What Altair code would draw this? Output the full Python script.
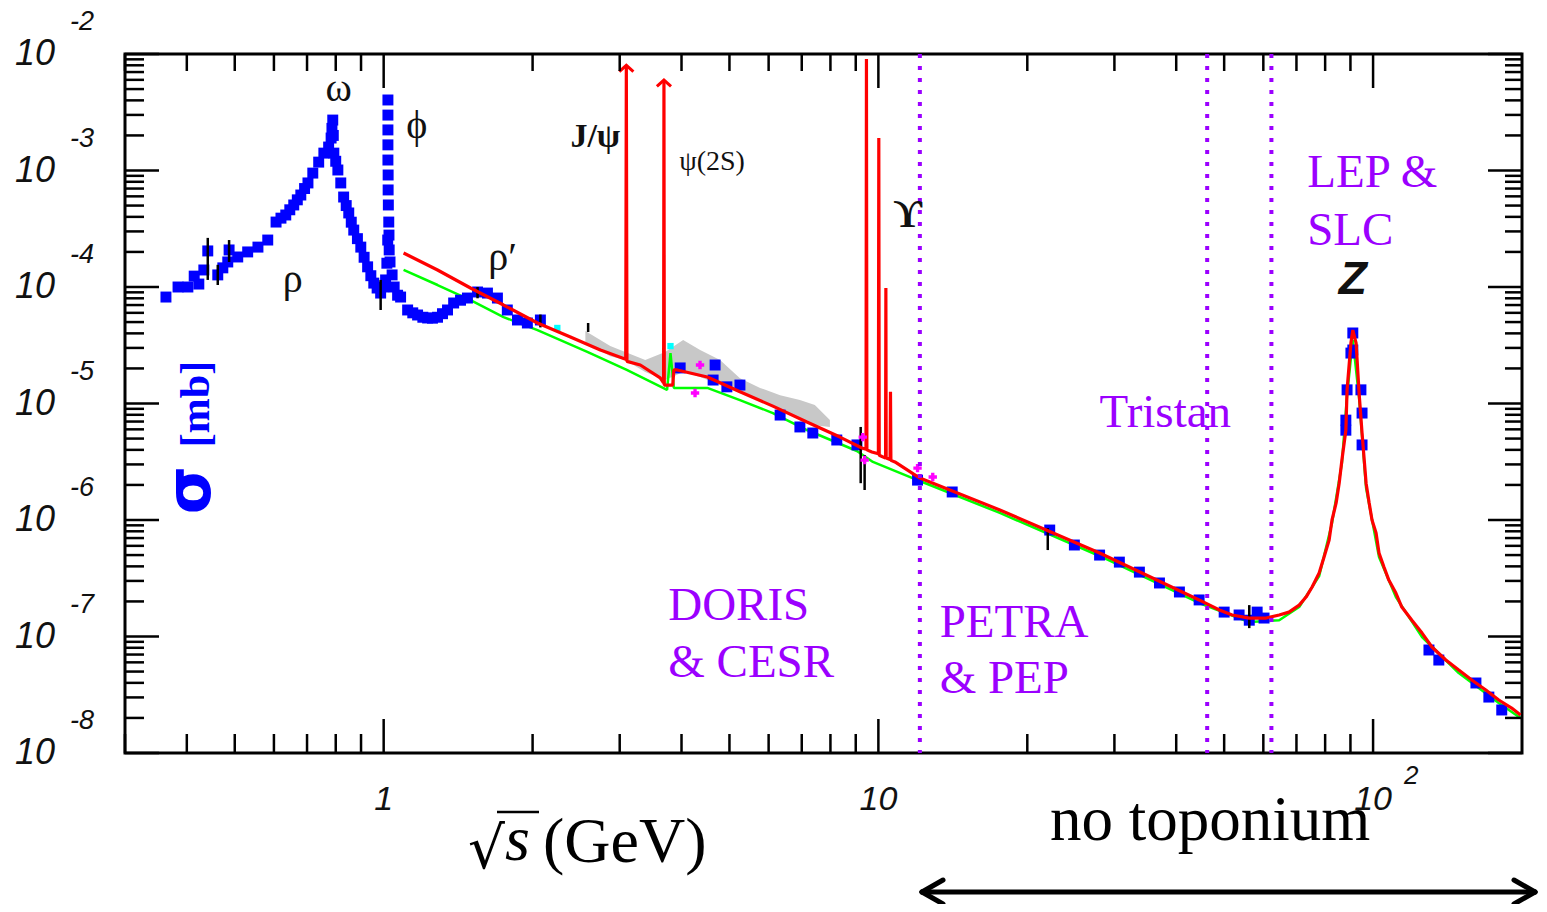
import altair as alt
import pandas as pd

X_DOMAIN = [0.3, 200]
Y_DOMAIN = [1e-8, 1e-2]

# ---- blue measured points (sqrt(s) GeV, sigma mb)
blue_x = [0.363, 0.384, 0.402, 0.414, 0.423, 0.433, 0.441, 0.462, 0.473, 0.484, 0.487, 0.507, 0.531,
          0.557, 0.583, 0.606, 0.620, 0.634, 0.646, 0.658, 0.669, 0.680, 0.692, 0.703, 0.719, 0.739,
          0.757, 0.774, 0.783, 0.786, 0.789, 0.791, 0.793, 0.800, 0.808, 0.819, 0.830, 0.840, 0.850,
          0.860, 0.870, 0.885, 0.899, 0.913, 0.928, 0.942, 0.955, 0.970, 0.986, 1.000, 1.009, 1.015,
          1.019, 1.020, 1.020, 1.020, 1.020, 1.020, 1.021, 1.021, 1.022, 1.024, 1.025, 1.026,
          1.030, 1.040, 1.050, 1.067, 1.082, 1.118, 1.145, 1.171, 1.200, 1.227, 1.255, 1.285, 1.315,
          1.346, 1.385, 1.430, 1.477, 1.548, 1.621, 1.698, 1.778, 1.864, 1.952, 2.074,
          3.975, 4.634, 4.677, 4.940, 5.250, 6.330, 6.940, 7.370, 8.240, 9.050, 12.0, 14.1,
          22.2, 24.9, 28.0, 30.7, 33.7, 37.0, 40.6, 44.5, 50.0, 53.6, 56.2, 58.3, 60.2,
          88.1, 88.1, 88.6, 90.2, 91.0, 91.0, 94.5, 95.0, 95.0,
          129.7, 135.8, 161.4, 171.4, 182.0]
blue_y = [8.2e-5, 1.0e-4, 1.0e-4, 1.24e-4, 1.06e-4, 1.40e-4, 2.04e-4, 1.27e-4, 1.46e-4, 1.64e-4, 2.08e-4, 1.81e-4, 2.0e-4,
          2.2e-4, 2.53e-4, 3.61e-4, 3.9e-4, 4.15e-4, 4.6e-4, 5.06e-4, 5.6e-4, 6.16e-4, 7.0e-4, 7.82e-4, 9.5e-4, 1.18e-3,
          1.41e-3, 1.59e-3, 1.9e-3, 2.3e-3, 2.71e-3, 2.0e-3, 1.41e-3, 1.2e-3, 1.01e-3, 7.82e-4, 5.92e-4, 5.0e-4, 4.32e-4,
          3.6e-4, 3.08e-4, 2.6e-4, 2.2e-4, 1.8e-4, 1.49e-4, 1.25e-4, 1.08e-4, 9.8e-5, 8.87e-5, 1.0e-4, 1.15e-4, 1.6e-4,
          2.53e-4, 4.03e-3, 2.99e-3, 2.23e-3, 1.66e-3, 1.23e-3, 9.15e-4, 6.81e-4, 5.06e-4, 3.61e-4, 2.79e-4, 2.08e-4,
          1.64e-4, 1.27e-4, 1.0e-4, 8.5e-5, 8.2e-5, 6.35e-5, 6.0e-5, 5.75e-5, 5.5e-5, 5.42e-5, 5.4e-5, 5.5e-5, 5.9e-5,
          6.35e-5, 7.29e-5, 7.7e-5, 8.04e-5, 9.06e-5, 8.87e-5, 8.04e-5, 6.35e-5, 5.21e-5, 4.91e-5, 5.21e-5,
          2.02e-5, 1.59e-5, 2.14e-5, 1.39e-5, 1.44e-5, 7.96e-6, 6.29e-6, 5.58e-6, 4.86e-6, 4.41e-6, 2.2e-6, 1.74e-6,
          8.2e-7, 6.1e-7, 5.0e-7, 4.35e-7, 3.57e-7, 2.88e-7, 2.41e-7, 2.06e-7, 1.62e-7, 1.53e-7, 1.38e-7, 1.62e-7, 1.44e-7,
          7.2e-6, 5.9e-6, 1.31e-5, 2.71e-5, 4.03e-5, 2.88e-5, 1.31e-5, 8.28e-6, 4.41e-6,
          7.66e-8, 6.28e-8, 3.99e-8, 3.02e-8, 2.34e-8]

# ---- black error bars
err_x = [0.441, 0.487, 0.462, 0.986, 1.548, 2.074, 2.59, 9.21, 9.38, 22.0, 56.2]
err_lo = [1.15e-4, 1.64e-4, 1.04e-4, 6.35e-5, 8.0e-5, 4.5e-5, 4.11e-5, 2.07e-6, 1.81e-6, 5.52e-7, 1.18e-7]
err_hi = [2.64e-4, 2.53e-4, 1.55e-4, 1.15e-4, 1.0e-4, 5.8e-5, 4.91e-5, 6.29e-6, 3.61e-6, 8.53e-7, 1.86e-7]

# ---- red curve
red_x = [1.097, 1.285, 1.498, 1.747, 2.046, 2.385, 2.742, 3.036, 3.085, 3.094, 3.103, 3.302, 3.622,
         3.68, 3.686, 3.692, 3.74, 3.84, 3.86, 3.92, 4.51, 5.25, 6.12, 7.17, 8.36, 9.26, 9.44, 9.46, 9.48,
         9.70, 10.00, 10.02, 10.04, 10.34, 10.355, 10.37, 10.56, 10.58, 10.60, 10.8, 12.13, 17.6, 28.0,
         44.5, 48.9, 51.9, 56.2, 60.8, 64.6, 67.6, 70.9, 73.2, 75.3, 77.8, 79.6, 81.5, 82.6, 84.2, 85.4,
         86.5, 88.1, 88.6, 90.2, 91.0, 92.4, 93.7, 95.0, 96.8, 98.2, 99.5, 101.4, 102.8, 105.2, 107.6,
         111.2, 114.3, 119.8, 125.6, 131.5, 140.3, 149.0, 158.3, 169.0, 179.5, 190.6, 198.6]
red_y = [1.96e-4, 1.40e-4, 9.8e-5, 7.0e-5, 4.91e-5, 3.72e-5, 2.88e-5, 2.46e-5, 2.4e-5, 8.0e-3, 2.3e-5, 2.14e-5, 1.66e-5,
         1.5e-5, 5.98e-3, 1.44e-5, 1.44e-5, 1.44e-5, 1.94e-5, 1.94e-5, 1.69e-5, 1.26e-5, 9.5e-6, 6.93e-6, 5.15e-6, 4.15e-6, 4.05e-6, 9.06e-3, 4.0e-6,
         3.84e-6, 3.7e-6, 1.90e-3, 3.6e-6, 3.4e-6, 9.8e-5, 3.4e-6, 3.3e-6, 1.26e-5, 3.25e-6, 3.15e-6, 2.29e-6, 1.22e-6, 5.21e-7,
         2.06e-7, 1.69e-7, 1.53e-7, 1.44e-7, 1.44e-7, 1.53e-7, 1.62e-7, 1.86e-7, 2.18e-7, 2.66e-7, 3.51e-7, 4.81e-7, 6.73e-7, 1.0e-6, 1.40e-6, 2.07e-6,
         3.27e-6, 5.9e-6, 1.31e-5, 3.30e-5, 4.27e-5, 3.30e-5, 1.23e-5, 5.58e-6, 2.07e-6, 1.40e-6, 1.0e-6, 7.73e-7, 5.21e-7, 3.95e-7, 3.05e-7,
         2.36e-7, 1.79e-7, 1.38e-7, 1.07e-7, 8.12e-8, 6.28e-8, 5.15e-8, 4.23e-8, 3.47e-8, 2.85e-8, 2.43e-8, 2.12e-8]

# ---- green curve
green_x = [1.097, 1.285, 1.498, 1.747, 2.046, 2.58, 3.10, 3.74, 3.80, 3.86, 4.51, 5.25, 6.12, 7.17, 9.05,
           9.75, 12.13, 17.6, 28.0, 44.5, 56.2, 64.6, 70.9, 77.8, 82.6, 86.5, 88.6, 91.0, 93.7, 96.8,
           102.8, 111.2, 125.6, 149.0, 179.5, 198.6]
green_y = [1.40e-4, 1.04e-4, 7.73e-5, 5.52e-5, 4.27e-5, 2.77e-5, 1.94e-5, 1.31e-5, 2.71e-5, 1.36e-5, 1.36e-5, 1.07e-5, 8.28e-6, 5.92e-6, 3.91e-6,
           3.15e-6, 2.16e-6, 1.15e-6, 4.91e-7, 1.94e-7, 1.33e-7, 1.38e-7, 1.79e-7, 3.30e-7, 9.42e-7, 3.08e-6, 1.18e-5, 3.51e-5, 1.11e-5, 1.88e-6,
           4.81e-7, 2.18e-7, 9.9e-8, 4.86e-8, 2.69e-8, 2.0e-8]

# ---- grey band
band_x = [2.557, 2.871, 3.078, 3.379, 3.707, 4.031, 4.362, 4.786, 5.25, 5.767, 6.33, 6.94, 7.44, 7.98]
band_lo = [3.37e-5, 2.55e-5, 2.36e-5, 1.86e-5, 1.59e-5, 1.86e-5, 1.69e-5, 1.44e-5, 1.23e-5, 1.07e-5, 8.8e-6, 7.2e-6, 6.5e-6, 6.3e-6]
band_hi = [4.19e-5, 3.11e-5, 2.77e-5, 2.36e-5, 2.77e-5, 3.51e-5, 2.88e-5, 2.36e-5, 1.65e-5, 1.36e-5, 1.18e-5, 1.07e-5, 9.7e-6, 7.2e-6]

# ---- magenta / cyan points
mag_x = [4.26, 4.36, 9.30, 9.38, 12.0, 12.88]
mag_y = [1.23e-5, 2.14e-5, 5.15e-6, 3.27e-6, 2.79e-6, 2.34e-6]
cyan_x = [2.244, 3.80]
cyan_y = [4.45e-5, 3.11e-5]

# ---- arrows on J/psi, psi(2S)
arrow_x = [3.094, 3.686]
arrow_y = [8.0e-3, 5.98e-3]

# ---- accelerator boundaries
bound_x = [12.13, 46.2, 62.3]

# ---- labels
res_labels = ["ω", "ϕ", "ρ", "ρ′", "J/ψ", "ψ(2S)", "ϒ"]
res_x = [0.811, 1.166, 0.655, 1.739, 2.678, 4.61, 11.47]
res_y = [5.01e-3, 2.41e-3, 1.15e-4, 1.77e-4, 1.94e-3, 1.18e-3, 4.15e-4]
res_size = [40, 40, 40, 40, 34, 28, 40]
res_weight = ["normal", "normal", "normal", "normal", "bold", "normal", "bold"]

acc_labels = ["DORIS", "& CESR", "PETRA", "& PEP", "Tristan", "LEP &", "SLC"]
acc_x = [3.76, 3.76, 13.3, 13.3, 28.0, 73.6, 73.6]
acc_y = [1.38e-7, 4.49e-8, 9.9e-8, 3.27e-8, 6.28e-6, 7.21e-4, 2.29e-4]

# ---- axis ticks
x_major = [1, 10, 100]
x_minor = [0.3, 0.4, 0.5, 0.6, 0.7, 0.8, 0.9, 2, 3, 4, 5, 6, 7, 8, 9,
           20, 30, 40, 50, 60, 70, 80, 90]
x_tick_labels = ["1", "10", "10"]
y_major = [1e-8, 1e-7, 1e-6, 1e-5, 1e-4, 1e-3, 1e-2]
y_sup = ["-8", "-7", "-6", "-5", "-4", "-3", "-2"]
mantissas = [2, 3, 4, 5, 6, 7, 8, 9]
y_minor = [m * d for d in y_major[:-1] for m in mantissas]

W, H = 1397, 699
PURPLE = "#9b00ff"

xs = alt.Scale(type="log", domain=X_DOMAIN)
ys = alt.Scale(type="log", domain=Y_DOMAIN)


def X(f):
    return alt.X(f"{f}:Q", scale=xs, axis=None)


def Y(f):
    return alt.Y(f"{f}:Q", scale=ys, axis=None)


df_blue = pd.DataFrame({"x": blue_x, "y": blue_y})
df_err = pd.DataFrame({"x": err_x, "lo": err_lo, "hi": err_hi})
df_red = pd.DataFrame({"x": red_x, "y": red_y, "o": list(range(len(red_x)))})
df_green = pd.DataFrame({"x": green_x, "y": green_y, "o": list(range(len(green_x)))})
df_band = pd.DataFrame({"x": band_x, "lo": band_lo, "hi": band_hi})
df_mag = pd.DataFrame({"x": mag_x, "y": mag_y})
df_cyan = pd.DataFrame({"x": cyan_x, "y": cyan_y})
df_arrow = pd.DataFrame({"x": arrow_x, "y": arrow_y})
df_bound = pd.DataFrame({"x": bound_x})
df_res = pd.DataFrame({"x": res_x, "y": res_y, "t": res_labels, "s": res_size, "w": res_weight})
df_acc = pd.DataFrame({"x": acc_x, "y": acc_y, "t": acc_labels})
df_xmaj = pd.DataFrame({"v": x_major, "t": x_tick_labels})
df_xmin = pd.DataFrame({"v": x_minor})
df_ymaj = pd.DataFrame({"v": y_major, "t": y_sup})
df_ymin = pd.DataFrame({"v": y_minor})
df_z = pd.DataFrame({"x": [91.0], "y": [1.15e-4], "t": ["Z"]})

layers = []

# grey band
layers.append(alt.Chart(df_band).mark_area(color="#c8c8c8", opacity=1, clip=True).encode(
    x=X("x"), y=Y("lo"), y2="hi:Q"))
# green
layers.append(alt.Chart(df_green).mark_line(color="#00ff00", strokeWidth=2.5, clip=True, strokeJoin="bevel").encode(
    x=X("x"), y=Y("y"), order="o:Q"))
# blue points
layers.append(alt.Chart(df_blue).mark_square(color="#0000ff", size=120, opacity=1, clip=True).encode(
    x=X("x"), y=Y("y")))
# error bars
layers.append(alt.Chart(df_err).mark_rule(color="black", strokeWidth=2.5, clip=True).encode(
    x=X("x"), y=Y("lo"), y2="hi:Q"))
# cyan
layers.append(alt.Chart(df_cyan).mark_square(color="#00ffff", size=40, opacity=1).encode(
    x=X("x"), y=Y("y")))
# red
layers.append(alt.Chart(df_red).mark_line(color="#ff0000", strokeWidth=3.2, clip=True, strokeJoin="bevel").encode(
    x=X("x"), y=Y("y"), order="o:Q"))
# arrowheads
layers.append(alt.Chart(df_arrow).mark_point(shape="M-1,0.9L0,0L1,0.9", size=200, filled=False,
                                             color="#ff0000", strokeWidth=3, opacity=1).encode(
    x=X("x"), y=Y("y")))
# magenta
layers.append(alt.Chart(df_mag).mark_point(shape="cross", size=70, filled=True, color="#ff00ff", opacity=1).encode(
    x=X("x"), y=Y("y")))
# boundaries
layers.append(alt.Chart(df_bound).mark_rule(color=PURPLE, strokeWidth=4, strokeDash=[4, 8]).encode(
    x=X("x")))

# resonance labels
for s in [40, 34, 28]:
    sub = df_res[(df_res.s == s)]
    for wt in sub.w.unique():
        d = sub[sub.w == wt]
        layers.append(alt.Chart(d).mark_text(font="Liberation Serif", fontSize=s, fontWeight=wt,
                                             color="#111111", align="center", baseline="middle").encode(
            x=X("x"), y=Y("y"), text="t:N"))
layers.append(alt.Chart(df_z).mark_text(font="Liberation Sans", fontSize=46, fontWeight="bold",
                                        fontStyle="italic", color="#111111", align="center",
                                        baseline="middle").encode(x=X("x"), y=Y("y"), text="t:N"))
# accelerator labels
layers.append(alt.Chart(df_acc).mark_text(font="Liberation Serif", fontSize=47, color=PURPLE,
                                          align="left", baseline="alphabetic").encode(
    x=X("x"), y=Y("y"), text="t:N"))

# ticks
tk = dict(color="black", strokeWidth=2.5)
layers.append(alt.Chart(df_xmaj).mark_rule(**tk).encode(x=X("v"), y=alt.value(H), y2=alt.value(H - 34)))
layers.append(alt.Chart(df_xmaj).mark_rule(**tk).encode(x=X("v"), y=alt.value(0), y2=alt.value(34)))
layers.append(alt.Chart(df_xmin).mark_rule(**tk).encode(x=X("v"), y=alt.value(H), y2=alt.value(H - 19)))
layers.append(alt.Chart(df_xmin).mark_rule(**tk).encode(x=X("v"), y=alt.value(0), y2=alt.value(17)))
layers.append(alt.Chart(df_ymaj).mark_rule(**tk).encode(y=Y("v"), x=alt.value(0), x2=alt.value(34)))
layers.append(alt.Chart(df_ymaj).mark_rule(**tk).encode(y=Y("v"), x=alt.value(W), x2=alt.value(W - 34)))
layers.append(alt.Chart(df_ymin).mark_rule(**tk).encode(y=Y("v"), x=alt.value(0), x2=alt.value(19)))
layers.append(alt.Chart(df_ymin).mark_rule(**tk).encode(y=Y("v"), x=alt.value(W), x2=alt.value(W - 17)))

# tick labels
layers.append(alt.Chart(df_ymaj).mark_text(font="Liberation Sans", fontStyle="italic", fontSize=36,
                                           align="right", baseline="middle", color="#111111").encode(
    y=Y("v"), x=alt.value(-70), text=alt.value("10")))
layers.append(alt.Chart(df_ymaj).mark_text(font="Liberation Sans", fontStyle="italic", fontSize=27,
                                           align="left", baseline="middle", dy=-32, color="#111111").encode(
    y=Y("v"), x=alt.value(-55), text="t:N"))
layers.append(alt.Chart(df_xmaj).mark_text(font="Liberation Sans", fontStyle="italic", fontSize=34,
                                           align="center", baseline="middle", color="#111111").encode(
    x=X("v"), y=alt.value(H + 47), text="t:N"))
layers.append(alt.Chart(df_xmaj[df_xmaj.v == 100]).mark_text(font="Liberation Sans", fontStyle="italic",
                                                             fontSize=26, align="left", baseline="middle",
                                                             dx=31, color="#111111").encode(
    x=X("v"), y=alt.value(H + 23), text=alt.value("2")))

# y title (rotated)
layers.append(alt.Chart(df_z).mark_text(font="DejaVu Sans", fontSize=62, fontWeight="bold", color="#0000ff",
                                        angle=270, align="center", baseline="middle").encode(
    x=alt.value(66), y=alt.value(436), text=alt.value("σ")))
layers.append(alt.Chart(df_z).mark_text(font="Liberation Serif", fontSize=42, fontWeight="bold", color="#0000ff",
                                        angle=270, align="center", baseline="middle").encode(
    x=alt.value(71), y=alt.value(350), text=alt.value("[mb]")))

# x title
layers.append(alt.Chart(df_z).mark_text(font="DejaVu Serif", fontSize=58, color="black",
                                        align="left", baseline="alphabetic").encode(
    x=alt.value(343), y=alt.value(814), text=alt.value("√")))
layers.append(alt.Chart(df_z).mark_text(font="Liberation Serif", fontSize=64, fontStyle="italic", color="black",
                                        align="left", baseline="alphabetic").encode(
    x=alt.value(380), y=alt.value(806), text=alt.value("s")))
layers.append(alt.Chart(df_z).mark_text(font="Liberation Serif", fontSize=64, color="black",
                                        align="left", baseline="alphabetic").encode(
    x=alt.value(418), y=alt.value(808), text=alt.value("(GeV)")))
layers.append(alt.Chart(df_z).mark_rule(color="black", strokeWidth=2.5).encode(
    x=alt.value(372), x2=alt.value(414), y=alt.value(758)))

# no toponium + arrow
layers.append(alt.Chart(df_z).mark_text(font="Liberation Serif", fontSize=63, color="black",
                                        align="left", baseline="alphabetic").encode(
    x=alt.value(925), y=alt.value(786), text=alt.value("no toponium")))
ar = dict(color="black", strokeWidth=5, strokeCap="round")
layers.append(alt.Chart(df_z).mark_rule(**ar).encode(x=alt.value(797), x2=alt.value(1410), y=alt.value(838)))
layers.append(alt.Chart(df_z).mark_rule(**ar).encode(x=alt.value(797), x2=alt.value(818), y=alt.value(838), y2=alt.value(826)))
layers.append(alt.Chart(df_z).mark_rule(**ar).encode(x=alt.value(797), x2=alt.value(818), y=alt.value(838), y2=alt.value(850)))
layers.append(alt.Chart(df_z).mark_rule(**ar).encode(x=alt.value(1410), x2=alt.value(1389), y=alt.value(838), y2=alt.value(826)))
layers.append(alt.Chart(df_z).mark_rule(**ar).encode(x=alt.value(1410), x2=alt.value(1389), y=alt.value(838), y2=alt.value(850)))

chart = alt.layer(*layers).properties(
    width=W, height=H,
    autosize=alt.AutoSizeParams(type="none"),
    padding={"left": 117, "top": 46, "right": 17, "bottom": 151},
    background="white",
).configure_view(stroke="black", strokeWidth=3)

chart.save("out.html", embed_options={"renderer": "svg", "actions": False})
